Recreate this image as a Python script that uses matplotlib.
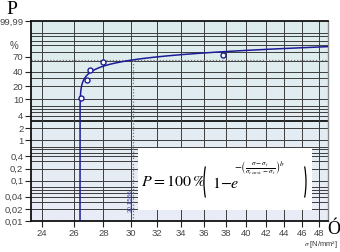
import numpy as np
import matplotlib
matplotlib.use("Agg")
import matplotlib.pyplot as plt
from matplotlib.ticker import FixedLocator, FixedFormatter, NullLocator
from matplotlib.patches import Rectangle, Arc

plt.rcParams['font.family'] = ['Liberation Sans', 'DejaVu Sans']
plt.rcParams['mathtext.fontset'] = 'stix'

# measured points (stress, failure probability in %)
sigma_pts = [26.45, 26.85, 27.08, 27.98, 37.7]
p_pts = [10.9, 26.6, 42.2, 57.8, 73.4]

# Weibull fit parameters
sigma_t = 26.41
sigma_c = 30.1586
b_shape = 0.42

x_ticks = [24, 26, 28, 30, 32, 34, 36, 38, 40, 42, 44, 46, 48]
y_ticks = [0.01, 0.02, 0.04, 0.1, 0.2, 0.4, 1, 2, 4, 10, 20, 40, 70, 99.99]
y_labels = ['0,01', '0,02', '0,04', '0,1', '0,2', '0,4', '1', '2', '4', '10', '20', '40', '70', '99,99']
grid_levels = [0.02, 0.03, 0.04, 0.05, 0.06, 0.07, 0.1,
               0.2, 0.3, 0.4, 0.5, 0.6, 0.7, 1,
               2, 4, 5, 6, 7, 10, 20, 30, 40, 60, 80, 90, 95, 98, 99]
thick_level = 3

W, H = 340, 252


def fx(px):
    return px / W


def fy(py):
    return 1 - py / H


def fwd(p):
    p = np.clip(np.asarray(p, dtype=float), 1e-12, 100 - 1e-9)
    return np.log(-np.log(1 - p / 100))


def inv(u):
    u = np.clip(np.asarray(u, dtype=float), -40, 4)
    return 100 * (1 - np.exp(-np.exp(u)))


fig = plt.figure(figsize=(3.4, 2.52), dpi=100)
ax = fig.add_axes([0.0912, 0.123, 0.8735, 0.7937])
ax.set_xscale('log')
ax.set_yscale('function', functions=(fwd, inv))
ax.set_xlim(23.37, 49.06)
ax.set_ylim(0.01, 99.99)

# background gradient
grad = np.linspace(0, 1, 100).reshape(-1, 1)
cmap = matplotlib.colors.LinearSegmentedColormap.from_list('bg', ['#dcecec', '#e9ecf7'])
ax.imshow(grad, extent=[0, 1, 0, 1], transform=ax.transAxes, cmap=cmap,
          aspect='auto', zorder=0, origin='upper')

for g in grid_levels:
    ax.axhline(g, color='#3c3c3c', lw=0.7, zorder=1)
ax.axhline(thick_level, color='#111111', lw=1.3, zorder=1)
for xt in x_ticks:
    ax.axvline(xt, color='#3c3c3c', lw=0.7, zorder=1)

# characteristic value lines
p_char = 100 * (1 - np.exp(-1))
ax.axhline(p_char, color='#777777', lw=0.9, ls=(0, (1, 1.5)), zorder=2)
ax.plot([sigma_c, sigma_c], [0.01, p_char], color='#777777', lw=0.9, ls=(0, (1, 1.5)), zorder=2)
ax.text(sigma_c * 0.9985, 0.017, '30,1586', rotation=90, fontsize=4.5, color='#3a3aa8',
        ha='right', va='bottom', zorder=3)

# fitted curve
s = sigma_t + np.geomspace(1e-11, 49.2 - sigma_t, 600)
p_fit = 100 * (1 - np.exp(-((s - sigma_t) / (sigma_c - sigma_t)) ** b_shape))
ax.plot(s, p_fit, color='#1c1c96', lw=1.1, zorder=4)
ax.plot(sigma_pts, p_pts, 'o', ms=3.6, mfc='white', mec='#1c1c96', mew=1.0, zorder=5)

# formula box
ax.add_patch(Rectangle((0.36, 0.055), 0.585, 0.31, transform=ax.transAxes,
                       facecolor='white', edgecolor='none', zorder=6))
fig.text(fx(141), fy(182), r'$P = 100\,\%$', fontsize=11.5, ha='left', va='center', zorder=7)
fig.text(fx(212), fy(184), r'$1{-}e$', fontsize=11.5, ha='left', va='center', zorder=7)
fig.text(fx(234), fy(168),
         r'$-\left(\frac{\sigma-\sigma_t}{\sigma_{const.}-\sigma_t}\right)^b$',
         fontsize=7.3, ha='left', va='center', zorder=7)
for xc, t1, t2 in [(211, 105, 255), (299, -75, 75)]:
    fig.add_artist(Arc((fx(xc), fy(182)), fx(14), 52 / H, theta1=t1, theta2=t2,
                       transform=fig.transFigure, color='black', lw=0.9, zorder=8))

ax.xaxis.set_major_locator(FixedLocator(x_ticks))
ax.xaxis.set_major_formatter(FixedFormatter([str(v) for v in x_ticks]))
ax.xaxis.set_minor_locator(NullLocator())
ax.yaxis.set_major_locator(FixedLocator(y_ticks))
ax.yaxis.set_major_formatter(FixedFormatter(y_labels))
ax.yaxis.set_minor_locator(NullLocator())
ax.tick_params(labelsize=6.8, labelcolor='#444444', length=4, width=0.8, color='#222222', pad=1.5)

for side in ['left', 'bottom', 'top']:
    ax.spines[side].set_color('#111111')
    ax.spines[side].set_linewidth(1.3)
ax.spines['right'].set_color('#888888')
ax.spines['right'].set_linewidth(1.0)

fig.text(fx(12), fy(9), 'P', fontsize=14, family='Liberation Serif', ha='center', va='center')
fig.text(fx(14), fy(46), '%', fontsize=7, color='#444444', ha='center', va='center')
fig.text(fx(334), fy(229), 'Ó', fontsize=13, family='Liberation Serif', ha='center', va='center')
fig.text(fx(338), fy(245), r'$\sigma$ [N/mm²]', fontsize=5.4, color='#333333', ha='right', va='center')

fig.savefig('out.png', dpi=100)
